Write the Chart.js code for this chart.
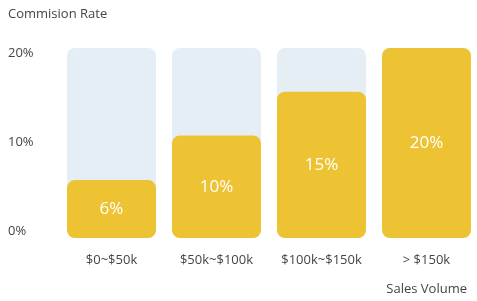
<!DOCTYPE html>
<html>
<head>
<meta charset="utf-8">
<script src="https://cdn.jsdelivr.net/npm/chart.js@4/dist/chart.umd.min.js"></script>
<style>
  html, body { margin: 0; padding: 0; background: #ffffff; overflow: hidden; }
  #wrap { width: 481px; height: 301px; }
</style>
</head>
<body>
<div id="wrap"><canvas id="c" width="481" height="301"></canvas></div>
<script>
// ---- data ----
const categories = ['$0~$50k', '$50k~$100k', '$100k~$150k', '> $150k'];
const rateValues = [6.1, 10.8, 15.4, 20];          // bar heights (%)
const rateLabels = ['6%', '10%', '15%', '20%'];     // printed labels
const maxValues = [20, 20, 20, 20];                 // background track
const yTicks = [0, 10, 20];

const FONT = '"Open Sans", "Noto Sans", sans-serif';
const YELLOW = '#EEC333';
const TRACK = '#E6EEF5';
const TEXT = '#444444';

const barLabels = {
  id: 'barLabels',
  afterDatasetsDraw(chart) {
    const ctx = chart.ctx;
    const meta = chart.getDatasetMeta(0);
    ctx.save();
    ctx.fillStyle = '#ffffff';
    ctx.font = '17px ' + FONT;
    ctx.textAlign = 'center';
    ctx.textBaseline = 'middle';
    meta.data.forEach((bar, i) => {
      ctx.fillText(rateLabels[i], bar.x, (bar.y + bar.base) / 2);
    });
    ctx.restore();
  }
};

const xTitle = {
  id: 'xTitle',
  afterDraw(chart) {
    const ctx = chart.ctx;
    ctx.save();
    ctx.fillStyle = TEXT;
    ctx.font = '13px ' + FONT;
    ctx.textAlign = 'right';
    ctx.textBaseline = 'middle';
    ctx.fillText('Sales Volume', chart.chartArea.right - 12, 289);
    ctx.restore();
  }
};

new Chart(document.getElementById('c'), {
  type: 'bar',
  data: {
    labels: categories,
    datasets: [
      {
        data: rateValues,
        backgroundColor: YELLOW,
        borderRadius: 8,
        borderSkipped: false,
        barPercentage: 0.848,
        categoryPercentage: 1,
        grouped: false,
        order: 0,
        yAxisID: 'y'
      },
      {
        data: maxValues,
        backgroundColor: TRACK,
        borderRadius: 8,
        borderSkipped: false,
        barPercentage: 0.848,
        categoryPercentage: 1,
        grouped: false,
        order: 1,
        yAxisID: 'y'
      }
    ]
  },
  options: {
    responsive: false,
    animation: false,
    layout: { padding: { left: 8, right: 2, top: 0, bottom: 0 } },
    plugins: {
      legend: { display: false },
      tooltip: { enabled: false },
      title: {
        display: true,
        text: 'Commision Rate',
        align: 'start',
        color: TEXT,
        font: { family: FONT, size: 13, weight: 'normal' },
        padding: { top: 6, bottom: 26.4 }
      }
    },
    scales: {
      x: {
        grid: { display: false, drawTicks: false },
        border: { display: false },
        ticks: { color: TEXT, font: { family: FONT, size: 13 }, padding: 14, maxRotation: 0 },
        afterFit(s) { s.height = 63; }
      },
      yl: {
        position: 'left',
        min: -0.7865,
        max: 20.562,
        grid: { display: false, drawTicks: false },
        border: { display: false },
        afterBuildTicks(axis) { axis.ticks = yTicks.map(v => ({ value: v })); },
        ticks: {
          color: TEXT,
          crossAlign: 'far',
          font: { family: FONT, size: 13 },
          callback: v => v + '%'
        },
        afterFit(s) { s.width = 51; }
      },
      y: {
        display: false,
        min: 0,
        max: 20
      }
    }
  },
  plugins: [barLabels, xTitle]
});
</script>
</body>
</html>
